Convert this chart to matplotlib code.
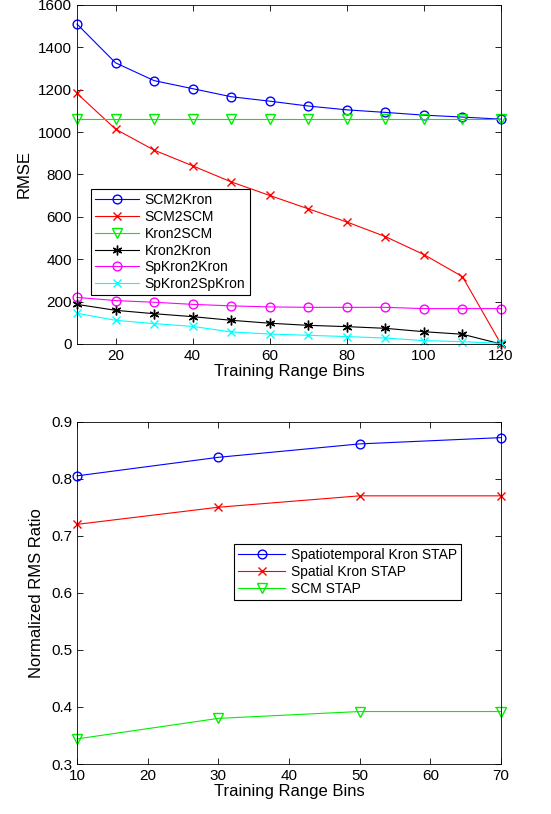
import matplotlib
matplotlib.use("Agg")
import matplotlib.pyplot as plt

plt.rcParams['font.family'] = ['Liberation Sans', 'DejaVu Sans']

# top panel data
bins_top = [10, 20, 30, 40, 50, 60, 70, 80, 90, 100, 110, 120]
scm2kron = [1510, 1327, 1243, 1205, 1167, 1146, 1123, 1105, 1093, 1080, 1071, 1061]
scm2scm = [1183, 1014, 915, 841, 765, 701, 638, 576, 507, 422, 318, 0]
kron2scm = [1062] * 12
kron2kron = [187, 159, 143, 129, 112, 98, 88, 82, 74, 58, 46, 0]
spkron2kron = [220, 205, 197, 187, 180, 175, 173, 173, 173, 167, 167, 167]
spkron2spkron = [145, 112, 96, 83, 57, 47, 41, 35, 28, 16, 11, 3]

# bottom panel data
bins_bot = [10, 30, 50, 70]
st_kron = [0.805, 0.8375, 0.861, 0.872]
sp_kron = [0.72, 0.75, 0.77, 0.77]
scm_stap = [0.344, 0.380, 0.392, 0.392]

fig = plt.figure(figsize=(5.51, 8.14), dpi=100)
ax1 = fig.add_axes([0.1397, 0.5774, 0.7695, 0.4165])
ax2 = fig.add_axes([0.1397, 0.0614, 0.7695, 0.4206])

lw = 0.8
mew = 1.0
# marker sizes roughly as in the MATLAB output
msize = {'o': 6.3, 'x': 5.5, 'v': 7}
top_series = [
    (scm2kron, 'SCM2Kron', '#0000ff', 'o'),
    (scm2scm, 'SCM2SCM', '#ff0000', 'x'),
    (kron2scm, 'Kron2SCM', '#00ee00', 'v'),
    (kron2kron, 'Kron2Kron', '#000000', (6, 2, 0)),
    (spkron2kron, 'SpKron2Kron', '#ff00ff', 'o'),
    (spkron2spkron, 'SpKron2SpKron', '#00ffff', 'x'),
]
for vals, name, col, mk in top_series:
    ms = msize.get(mk, 7) if isinstance(mk, str) else 7
    ax1.plot(bins_top, vals, color=col, marker=mk, ms=ms, mfc='none',
             mec=col, mew=mew, lw=lw, label=name, clip_on=False)

ax1.set_xlim(10, 120)
ax1.set_ylim(0, 1600)
ax1.set_xticks([20, 40, 60, 80, 100, 120])
ax1.set_yticks(range(0, 1601, 200))
ax1.set_xlabel('Training Range Bins', fontsize=12, labelpad=1)
ax1.set_ylabel('RMSE', fontsize=12, labelpad=5)
leg1 = ax1.legend(loc='upper left', bbox_to_anchor=(0.032, 0.457), fontsize=10,
                  handlelength=3.2, handletextpad=0.4, labelspacing=0.2,
                  borderaxespad=0, borderpad=0.3, fancybox=False, framealpha=1,
                  edgecolor='black')
leg1.get_frame().set_linewidth(0.8)

bot_series = [
    (st_kron, 'Spatiotemporal Kron STAP', '#0000ff', 'o'),
    (sp_kron, 'Spatial Kron STAP', '#ff0000', 'x'),
    (scm_stap, 'SCM STAP', '#00ee00', 'v'),
]
for vals, name, col, mk in bot_series:
    ax2.plot(bins_bot, vals, color=col, marker=mk, ms=msize[mk], mfc='none',
             mec=col, mew=mew, lw=lw, label=name, clip_on=False)

ax2.set_xlim(10, 70)
ax2.set_ylim(0.3, 0.9)
ax2.set_xticks(range(10, 71, 10))
ax2.set_yticks([0.3, 0.4, 0.5, 0.6, 0.7, 0.8, 0.9])
ax2.set_xlabel('Training Range Bins', fontsize=12, labelpad=1)
ax2.set_ylabel('Normalized RMS Ratio', fontsize=12, labelpad=5)
leg2 = ax2.legend(loc='upper left', bbox_to_anchor=(0.37, 0.643), fontsize=10,
                  handlelength=3.4, handletextpad=0.4, labelspacing=0.2,
                  borderaxespad=0, borderpad=0.3, fancybox=False, framealpha=1,
                  edgecolor='black')
leg2.get_frame().set_linewidth(0.8)

for ax in (ax1, ax2):
    ax.tick_params(direction='in', top=True, right=True, labelsize=11,
                   length=4, width=0.6)
    for s in ax.spines.values():
        s.set_linewidth(0.6)

fig.savefig('out.png', dpi=100)
